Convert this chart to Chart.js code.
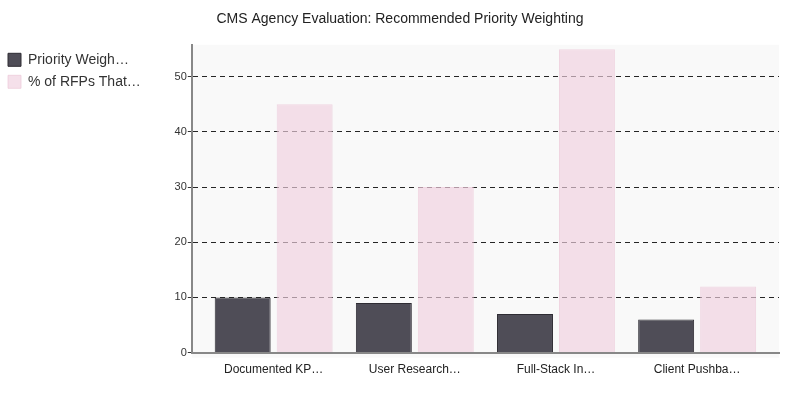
<!DOCTYPE html>
<html>
<head>
<meta charset="utf-8">
<script src="https://cdn.jsdelivr.net/npm/chart.js@4.4.1/dist/chart.umd.min.js"></script>
<style>
html,body{margin:0;padding:0;background:#fff;}
#wrap{width:800px;height:400px;}
</style>
</head>
<body>
<div id="wrap"><canvas id="c" width="800" height="400"></canvas></div>
<script>
const categories = ["Documented KP…", "User Research…", "Full-Stack In…", "Client Pushba…"];
const seriesNames = ["Priority Weigh…", "% of RFPs That…"];
const priorityWeighting = [10, 9, 7, 6];
const rfpPercent = [45, 30, 55, 12];
const yTicks = [0, 10, 20, 30, 40, 50];

const toPoints = arr => arr.map((v, i) => ({ x: i, y: v }));

const bgPlugin = {
  id: 'bgPlugin',
  beforeDraw(chart) {
    const a = chart.chartArea, ctx = chart.ctx;
    ctx.save();
    ctx.fillStyle = '#f9f9f9';
    ctx.fillRect(a.left, a.top, a.right - a.left, a.bottom - a.top + 5);
    ctx.restore();
  }
};

new Chart(document.getElementById('c'), {
  type: 'bar',
  data: {
    datasets: [
      { label: seriesNames[0], data: toPoints(priorityWeighting), backgroundColor: '#4f4d57', borderColor: '#2e2c33', borderWidth: 1 },
      { label: seriesNames[1], data: toPoints(rfpPercent), backgroundColor: 'rgba(240,208,222,0.65)', borderColor: 'rgba(236,200,216,0.7)', borderWidth: 1 }
    ]
  },
  options: {
    responsive: false,
    animation: false,
    layout: { padding: { left: 0, right: 0, top: 0, bottom: 13 } },
    datasets: { bar: { categoryPercentage: 0.878, barPercentage: 0.903 } },
    plugins: {
      title: { display: true, text: 'CMS Agency Evaluation: Recommended Priority Weighting', color: '#222', font: { family: 'Liberation Sans, Arial', size: 14, weight: 'normal' }, padding: { top: 11, bottom: 17 } },
      legend: { position: 'left', align: 'start', fullSize: false,
        labels: { color: '#333', boxWidth: 13, boxHeight: 13, padding: 8, font: { family: 'Liberation Sans, Arial', size: 14 } } },
      tooltip: { enabled: false }
    },
    scales: {
      x: {
        type: 'linear',
        min: -0.58, max: categories.length - 1 + 0.58,
        offset: false,
        afterBuildTicks(scale) { scale.ticks = categories.map((c, i) => ({ value: i })); },
        afterFit(scale) { scale.paddingRight = 21; scale.paddingLeft = 0; },
        grid: { display: false, drawTicks: false },
        border: { display: true, color: '#888', width: 2 },
        ticks: { color: '#222', padding: 10, maxRotation: 0, autoSkip: false, font: { family: 'Liberation Sans, Arial', size: 12 },
          callback: v => categories[v] }
      },
      y: {
        min: 0, max: 55.8,
        afterBuildTicks(scale) { scale.ticks = yTicks.map(v => ({ value: v })); },
        afterFit(scale) { scale.width = 41; },
        grid: {
          color: ctx => ctx.tick && ctx.tick.value === 0 ? 'rgba(0,0,0,0)' : 'rgba(0,0,0,0.85)',
          tickColor: '#333', tickLength: 4, tickBorderDash: [], drawOnChartArea: true
        },
        border: { display: true, color: '#888', width: 2, dash: [5, 4] },
        ticks: { color: '#333', padding: 1, font: { family: 'Liberation Sans, Arial', size: 11 } }
      }
    }
  },
  plugins: [bgPlugin]
});
</script>
</body>
</html>
